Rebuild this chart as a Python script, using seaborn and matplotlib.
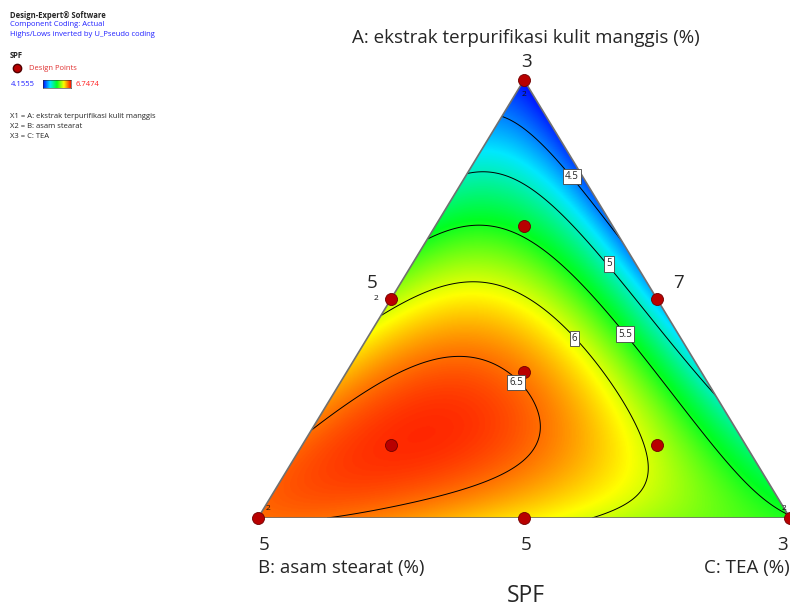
import numpy as np
import pandas as pd
import matplotlib
matplotlib.use('Agg')
import matplotlib.pyplot as plt
from matplotlib.colors import LinearSegmentedColormap
from matplotlib.patches import Polygon
from matplotlib.lines import Line2D
import seaborn as sns

# design points (pseudo components A, B, C) and SPF estimated from the colours
comp_a = [1.0, 0.0, 0.0, 0.5, 0.5, 0.0, 1/3, 2/3, 1/6, 1/6]
comp_b = [0.0, 1.0, 0.0, 0.5, 0.0, 0.5, 1/3, 1/6, 2/3, 1/6]
comp_c = [0.0, 0.0, 1.0, 0.0, 0.5, 0.5, 1/3, 1/6, 1/6, 2/3]
spf    = [4.16, 6.52, 5.5, 5.92, 4.6, 6.15, 6.5, 5.45, 6.72, 5.9]

# compositions (A, C)
trace_level = [4.5]*7 + [5]*7 + [5.5]*9 + [6]*11 + [6.5]*14
trace_a = [0.91, 0.886, 0.824, 0.776, 0.719, 0.612, 0.555,
           0.788, 0.783, 0.756, 0.703, 0.582, 0.514, 0.285,
           0.642, 0.658, 0.651, 0.612, 0.550, 0.498, 0.418, 0.224, 0.094,
           0.459, 0.505, 0.527, 0.514, 0.459, 0.406, 0.315, 0.217, 0.116, 0.057, 0.0,
           0.155, 0.253, 0.322, 0.354, 0.358, 0.342, 0.299, 0.231, 0.178, 0.126, 0.087,
           0.048, 0.018, 0.0]
trace_c = [0.0, 0.068, 0.143, 0.204, 0.270, 0.399, 0.445,
           0.0, 0.045, 0.133, 0.229, 0.367, 0.461, 0.715,
           0.0, 0.056, 0.143, 0.237, 0.325, 0.381, 0.481, 0.694, 0.872,
           0.0, 0.028, 0.129, 0.211, 0.314, 0.397, 0.498, 0.610, 0.679, 0.684, 0.63,
           0.0, 0.029, 0.089, 0.137, 0.197, 0.267, 0.339, 0.405, 0.434, 0.439, 0.408,
           0.290, 0.179, 0.126]
# extra colour readings along the A-C edge and the peak
edge_a = [0.85, 0.7]
edge_c = [0.15, 0.3]
edge_spf = [4.22, 4.33]
peak_a, peak_c = 0.217, 0.230
contour_levels = [4.5, 5, 5.5, 6, 6.5]
# where each contour label box sits (A, C)
label_a = [0.78, 0.58, 0.42, 0.41, 0.31]
label_c = [0.20, 0.37, 0.48, 0.39, 0.33]
spf_min, spf_max = 4.1555, 6.7474

sns.set_theme(style='white')
plt.rcParams['font.family'] = ['Open Sans', 'DejaVu Sans']

DEG = 4


def terms(a, c):
    return np.stack([a**i * c**j for i in range(DEG + 1) for j in range(DEG + 1 - i)], axis=-1)


fit_a = np.array(comp_a + trace_a + edge_a + [peak_a])
fit_c = np.array(comp_c + trace_c + edge_c + [peak_c])
fit_z = np.array(spf + trace_level + edge_spf + [spf_max])
coef, *_ = np.linalg.lstsq(terms(fit_a, fit_c), fit_z, rcond=None)


def to_xy(a, c):
    return np.asarray(c) + np.asarray(a) / 2, np.asarray(a)


fig = plt.figure(figsize=(7.9, 6.08), dpi=100)
ax = fig.add_axes([258/790, 90/608, 532/790, 438/608])
ax.set_xlim(0, 1)
ax.set_ylim(0, 1)
ax.axis('off')

xs = np.linspace(0, 1, 600)
ys = np.linspace(0, 1, 600)
X, Y = np.meshgrid(xs, ys)
A = Y
C = X - Y / 2
Z = terms(A, C) @ coef

cmap = LinearSegmentedColormap.from_list(
    'de', ['#0010ff', '#00e8ff', '#00ff20', '#ffff00', '#ff1800'])
tri = Polygon([[0, 0], [1, 0], [0.5, 1]], closed=True, transform=ax.transData,
              facecolor='none', edgecolor='#707070', lw=1.2, zorder=4)
ax.add_patch(tri)
im = ax.imshow(Z, extent=(0, 1, 0, 1), origin='lower', cmap=cmap,
               vmin=spf_min, vmax=spf_max, aspect='auto', interpolation='bilinear')
im.set_clip_path(tri)
cs = ax.contour(X, Y, Z, levels=contour_levels, colors='black', linewidths=0.7)
cs.set_clip_path(tri)
for lev, la, lc in zip(contour_levels, label_a, label_c):
    lx, ly = to_xy(la, lc)
    ax.text(lx, ly, f'{lev:g}', fontsize=7, ha='center', va='center', zorder=8,
            bbox=dict(facecolor='white', edgecolor='#444444', pad=1.5, lw=0.6))

px, py = to_xy(np.array(comp_a), np.array(comp_c))
pts = pd.DataFrame({'x': px, 'y': py})
sns.scatterplot(data=pts, x='x', y='y', ax=ax, s=75, color='#b80000',
                edgecolor='#700000', linewidth=0.6, zorder=6, clip_on=False, legend=False)
ax.set_xlabel('')
ax.set_ylabel('')

# replicate counts
for (a, c), dx, dy in [((1, 0), 0, -0.032), ((0.5, 0), -0.028, 0),
                       ((0, 0), 0.018, 0.022), ((0, 1), -0.012, 0.022)]:
    x0, y0 = to_xy(a, c)
    ax.text(x0 + dx, y0 + dy, '2', fontsize=6, ha='center', va='center', color='#111111', zorder=9)

# axis text
big = 13.5
fig.text(526/790, 1 - 38/608, 'A: ekstrak terpurifikasi kulit manggis (%)', ha='center', va='center', fontsize=big)
fig.text(526/790, 1 - 62/608, '3', ha='center', va='center', fontsize=big)
fig.text(372/790, 1 - 283/608, '5', ha='center', va='center', fontsize=big)
fig.text(678/790, 1 - 283/608, '7', ha='center', va='center', fontsize=big)
fig.text(264/790, 1 - 545/608, '5', ha='center', va='center', fontsize=big)
fig.text(526/790, 1 - 545/608, '5', ha='center', va='center', fontsize=big)
fig.text(783/790, 1 - 545/608, '3', ha='center', va='center', fontsize=big)
fig.text(258/790, 1 - 568/608, 'B: asam stearat (%)', ha='left', va='center', fontsize=big)
fig.text(790/790, 1 - 568/608, 'C: TEA (%)', ha='right', va='center', fontsize=big)
fig.text(526/790, 1 - 596/608, 'SPF', ha='center', va='center', fontsize=16.5)

# legend block
small = 5.5
fig.text(10/790, 1 - 15/608, 'Design-Expert® Software', fontsize=small, weight='bold', va='center')
fig.text(10/790, 1 - 25/608, 'Component Coding: Actual', fontsize=small, color='#2020ff', va='center')
fig.text(10/790, 1 - 35/608, 'Highs/Lows inverted by U_Pseudo coding', fontsize=small, color='#2020ff', va='center')
fig.text(10/790, 1 - 56/608, 'SPF', fontsize=small, weight='bold', va='center')
fig.add_artist(Line2D([17/790], [1 - 68/608], marker='o', ms=6, color='#b80000',
                      mec='#500000', transform=fig.transFigure))
fig.text(29/790, 1 - 68/608, 'Design Points', fontsize=small, color='#e03030', va='center')
fig.text(11/790, 1 - 84/608, f'{spf_min}', fontsize=small, color='#2020ff', va='center')
cax = fig.add_axes([43/790, 1 - 88/608, 28/790, 8/608])
cax.imshow(np.linspace(0, 1, 64)[None, :], cmap=cmap, aspect='auto')
cax.set_xticks([])
cax.set_yticks([])
for s in cax.spines.values():
    s.set_linewidth(0.4)
fig.text(76/790, 1 - 84/608, f'{spf_max}', fontsize=small, color='#ff2020', va='center')
fig.text(10/790, 1 - 116/608, 'X1 = A: ekstrak terpurifikasi kulit manggis', fontsize=small, va='center')
fig.text(10/790, 1 - 126/608, 'X2 = B: asam stearat', fontsize=small, va='center')
fig.text(10/790, 1 - 136/608, 'X3 = C: TEA', fontsize=small, va='center')

fig.savefig('out.png', dpi=100)
